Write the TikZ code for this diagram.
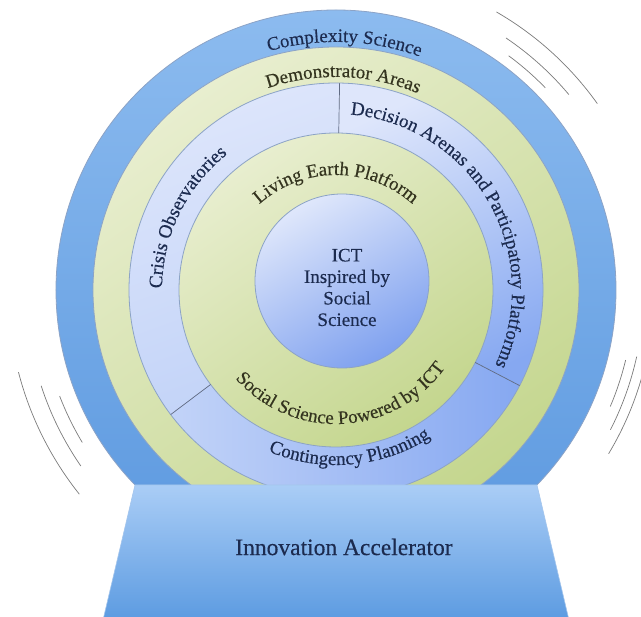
\documentclass[tikz,border=0pt]{standalone}
\usepackage{fontspec}
\setmainfont{Liberation Serif}
\newfontfamily\labelfont{Liberation Serif}[FakeBold=0.35]
\usepackage{xcolor}
\usetikzlibrary{decorations.text}

\definecolor{bandtop}{HTML}{8CBBEF}
\definecolor{bandbottom}{HTML}{5B98DF}
\definecolor{greenlight}{HTML}{E8EECF}
\definecolor{greendark}{HTML}{C4D68E}
\definecolor{palelight}{HTML}{DEE6FB}
\definecolor{palemid}{HTML}{C2D3F8}
\definecolor{paledark}{HTML}{86A8F1}
\definecolor{ictlight}{HTML}{DFE7FB}
\definecolor{ictdark}{HTML}{7FA1EF}
\definecolor{basetop}{HTML}{AACDF6}
\definecolor{basebottom}{HTML}{5C9BE1}
\definecolor{ringline}{HTML}{8CA3C6}
\definecolor{navytext}{HTML}{1C2B4F}
\definecolor{olivetext}{HTML}{34341F}
\definecolor{waveline}{HTML}{7A7A7A}

\newcommand\ringfont{\labelfont\fontsize{19}{21}\selectfont}

\tikzset{
	ring edge/.style={draw=ringline, line width=0.8pt},
	ring text/.style={decorate, decoration={text along path, text align=center, text={#1}}},
	wave/.style={draw=waveline, line width=0.7pt},
}

\begin{document}
\begin{tikzpicture}[x=1pt, y=1pt]
	\useasboundingbox (-336,-327) rectangle (305,290);
	
	\coordinate (O) at (0, 0);
	\coordinate (ict centre) at (6, 9);
	
	% rings from outside in
	\shade [top color=bandtop, bottom color=bandbottom] (O) circle [radius=280pt];
	\draw [ring edge] (O) circle [radius=280pt];
	
	\shade [top color=greenlight, bottom color=greendark, shading angle=35] (O) circle [radius=243pt];
	\draw [ring edge] (O) circle [radius=243pt];
	
	\shade [top color=palelight, bottom color=palemid, shading angle=20] (O) -- (89:207pt) arc [start angle=89, end angle=217, radius=207pt] -- cycle;
	\shade [top color=palelight, bottom color=paledark, shading angle=25] (O) -- (-27.5:207pt) arc [start angle=-27.5, end angle=89, radius=207pt] -- cycle;
	\shade [left color=palemid, right color=paledark] (O) -- (217:207pt) arc [start angle=217, end angle=332.5, radius=207pt] -- cycle;
	\draw [ring edge] (O) circle [radius=207pt];
	
	\shade [top color=greenlight, bottom color=greendark, shading angle=35] (O) circle [radius=157pt];
	\draw [ring edge] (O) circle [radius=157pt];
	
	\shade [top color=ictlight, bottom color=ictdark, shading angle=30] (ict centre) circle [radius=87pt];
	\draw [ring edge] (ict centre) circle [radius=87pt];
	
	% dividers
	\draw [navytext!70, line width=0.7pt] (89:157pt) -- (89:207pt);
	\draw [navytext!70, line width=0.7pt] (217:157pt) -- (217:207pt);
	\draw [navytext!70, line width=0.7pt] (332.5:157pt) -- (332.5:207pt);
	
	% curved labels
	\path [ring text={|\ringfont\color{navytext}|Complexity Science}] (158:248pt) arc [start angle=158, end angle=18, radius=248pt];
	\path [ring text={|\ringfont\color{olivetext}|Demonstrator Areas}] (158:213pt) arc [start angle=158, end angle=18, radius=213pt];
	\path [ring text={|\ringfont\color{navytext}|Decision Arenas and Participatory Platforms}] (110:176pt) arc [start angle=110, end angle=-50, radius=176pt];
	\path [ring text={|\ringfont\color{navytext}|Crisis Observatories}] (224:174pt) arc [start angle=224, end angle=84, radius=174pt];
	\path [ring text={|\ringfont\color{olivetext}|Living Earth Platform}] (160:115pt) arc [start angle=160, end angle=20, radius=115pt];
	\path [ring text={|\ringfont\color{olivetext}|Social Science Powered by ICT}] (193:134pt) arc [start angle=193, end angle=353, radius=134pt];
	\path [ring text={|\ringfont\color{navytext}|Contingency Planning}] (215:175pt) arc [start angle=215, end angle=335, radius=175pt];
	
	\node (ict label) [align=center, font=\labelfont\fontsize{19}{21.5}\selectfont, text=navytext] at (11, 2.5) {ICT\\Inspired by\\Social\\Science};
	
	% base
	\shade [top color=basetop, bottom color=basebottom] (-201,-195) -- (201,-195) -- (233,-330) -- (-233,-330) -- cycle;
	\draw [draw=basetop!80!ringline, line width=0.6pt] (-233,-330) -- (-201,-195) -- (201,-195) -- (233,-330);
	\node (accel label) [font=\labelfont\fontsize{23.5}{27}\selectfont, text=navytext] at (8, -257) {Innovation Accelerator};
	
	% waves
	\draw [wave] (35.5:321pt) arc [start angle=35.5, end angle=60, radius=321pt];
	\draw [wave] (40:304pt) arc [start angle=40, end angle=56, radius=304pt];
	\draw [wave] (44:291pt) arc [start angle=44, end angle=53.6, radius=291pt];
	
	\draw [wave] (-31:318pt) arc [start angle=-31, end angle=-11, radius=318pt];
	\draw [wave] (-27:308pt) arc [start angle=-27, end angle=-12.5, radius=308pt];
	\draw [wave] (-23:298pt) arc [start angle=-23, end angle=-13.6, radius=298pt];
	
	\draw [wave] (194.5:328pt) arc [start angle=194.5, end angle=218.5, radius=328pt];
	\draw [wave] (198:310pt) arc [start angle=198, end angle=214.6, radius=310pt];
	\draw [wave] (201:296pt) arc [start angle=201, end angle=211, radius=296pt];
\end{tikzpicture}
\end{document}
